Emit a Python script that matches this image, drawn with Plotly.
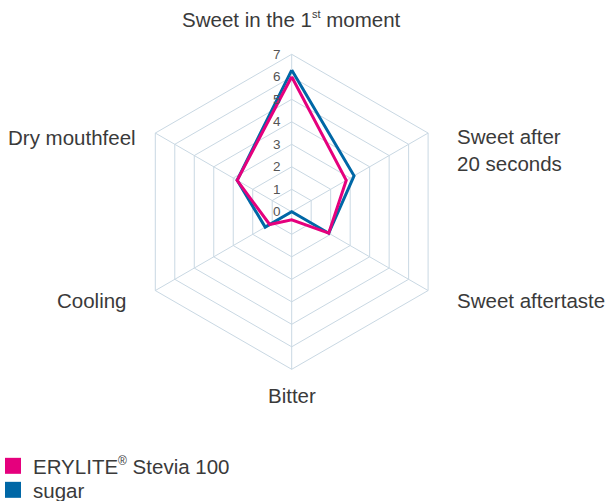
import plotly.graph_objects as go

# ---- data ----
categories = ["Sweet in the 1st moment", "Sweet after 20 seconds", "Sweet aftertaste",
              "Bitter", "Cooling", "Dry mouthfeel"]
axis_labels = ["Sweet in the 1<sup><span style='font-size:11px'>st</span></sup> moment",
               "Sweet after<br>20 seconds",
               "Sweet aftertaste", "Bitter", "Cooling", "Dry mouthfeel"]
stevia = [6.0, 2.8, 1.9, 0.36, 1.13, 2.8]
sugar = [6.3, 3.2, 1.9, 0.0, 1.36, 2.8]
series_names = ["ERYLITE<sup><span style='font-size:12px'>®</span></sup> Stevia 100", "sugar"]
radial_ticks = [0, 1, 2, 3, 4, 5, 6, 7]

W, H = 606, 501
PINK = "#e5007d"
BLUE = "#0067a6"
GRID = "#c9d8e3"
TEXT = "#3a3a3a"
FONT = "Liberation Sans, Arial, sans-serif"
FS = 20.5

fig = go.Figure()

# lines (sugar below, stevia on top)
for vals, col in [(sugar, BLUE), (stevia, PINK)]:
    fig.add_trace(go.Scatterpolar(
        r=vals + vals[:1], theta=categories + categories[:1],
        mode="lines", line=dict(color=col, width=3),
        showlegend=False, hoverinfo="skip"))

# legend entries (square swatches), one legend per entry
for name, col, lg in zip(series_names, [PINK, BLUE], ["legend", "legend2"]):
    fig.add_trace(go.Scatterpolar(
        r=[None], theta=[None], mode="markers", name=name, legend=lg,
        marker=dict(symbol="square", size=16, color=col)))

# polar domain: center (291.7, 211.8) px, radius 157.5 px
cx, cy, R = 291.7, 211.8, 157.5
legend_common = dict(
    x=0, xanchor="left", yanchor="middle", indentation=-7,
    font=dict(size=FS, color=TEXT, family=FONT),
    bgcolor="rgba(0,0,0,0)", borderwidth=0,
    itemclick=False, itemdoubleclick=False)
fig.update_layout(
    width=W, height=H,
    margin=dict(l=0, r=0, t=0, b=0, pad=0, autoexpand=False),
    paper_bgcolor="white", plot_bgcolor="white",
    font=dict(family=FONT, color=TEXT, size=FS),
    polar=dict(
        domain=dict(x=[(cx - R) / W, (cx + R) / W],
                    y=[1 - (cy + R) / H, 1 - (cy - R) / H]),
        gridshape="linear",
        bgcolor="white",
        angularaxis=dict(
            categoryarray=categories, categoryorder="array",
            direction="clockwise", rotation=90,
            showticklabels=False, ticks="",
            showgrid=True, gridcolor=GRID, gridwidth=1,
            showline=True, linecolor=GRID, linewidth=1),
        radialaxis=dict(
            range=[0, 7], tickvals=radial_ticks,
            ticktext=[str(v) for v in radial_ticks],
            angle=90, tickangle=90, side="counterclockwise",
            ticks="outside", ticklen=6, tickcolor="rgba(0,0,0,0)",
            tickfont=dict(size=13.5, color="#555555", family=FONT),
            showgrid=True, gridcolor=GRID, gridwidth=1,
            showline=False),
    ),
    legend=dict(y=1 - 466 / H, **legend_common),
    legend2=dict(y=1 - 490 / H, **legend_common),
)

# category labels
label_pos = [
    (291, 20, "center"),
    (455, 149.5, "left"),
    (455, 300, "left"),
    (292, 395, "center"),
    (129, 300, "right"),
    (138, 137, "right"),
]
for txt, (px, py, xa) in zip(axis_labels, label_pos):
    fig.add_annotation(
        x=px / W, y=1 - py / H, xref="paper", yref="paper",
        text=txt, showarrow=False, xanchor=xa, yanchor="middle", align="left",
        font=dict(size=FS, color=TEXT, family=FONT))

fig.write_html("out.html",
               config={"displayModeBar": False, "staticPlot": True},
               post_script="document.body.style.margin='0px';")
